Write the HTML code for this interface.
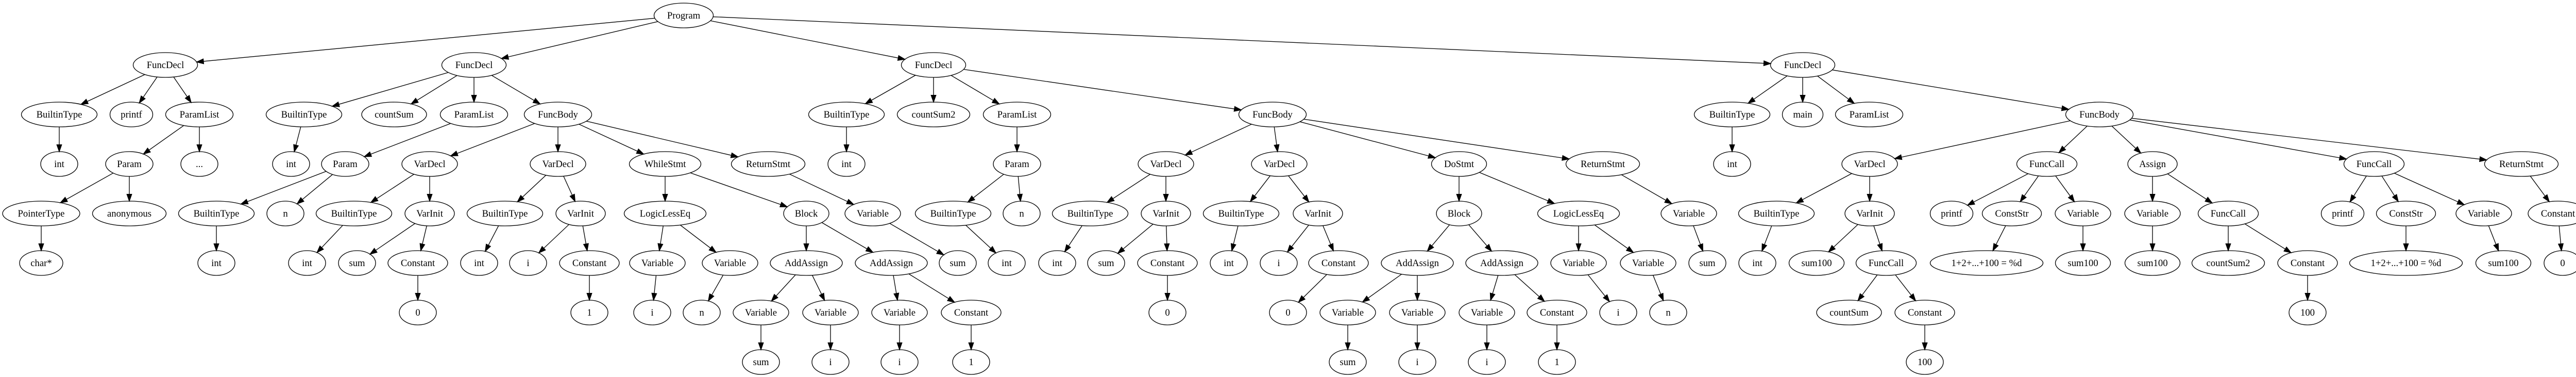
<!DOCTYPE html>
<html><head><meta charset="utf-8"><style>
html,body{margin:0;padding:0;background:#fff;}
svg{display:block;}
ellipse{fill:none;stroke:#000;stroke-width:1.33;}
text{font-family:"Liberation Serif",serif;font-size:18.67px;text-anchor:middle;fill:#000;}
</style></head><body>
<svg id="s" width="5030" height="731" viewBox="0 0 5030 731" xmlns="http://www.w3.org/2000/svg">
<rect width="5030" height="731" fill="#fff"/>
<g id="edges"></g>
<g id="nodes">
<g id="P"><ellipse cx="1327" cy="30" rx="57.5" ry="24"/><text x="1327" y="36">Program</text></g>
<g id="F1"><ellipse cx="321" cy="126" rx="62.5" ry="24"/><text x="321" y="132">FuncDecl</text></g>
<g id="F2"><ellipse cx="920" cy="126" rx="62.5" ry="24"/><text x="920" y="132">FuncDecl</text></g>
<g id="F3"><ellipse cx="1812" cy="126" rx="62.5" ry="24"/><text x="1812" y="132">FuncDecl</text></g>
<g id="F4"><ellipse cx="3499" cy="126" rx="62.5" ry="24"/><text x="3499" y="132">FuncDecl</text></g>

<g id="a1"><ellipse cx="115" cy="222" rx="73.5" ry="24"/><text x="115" y="228">BuiltinType</text></g>
<g id="a2"><ellipse cx="255" cy="222" rx="41.5" ry="24"/><text x="255" y="228">printf</text></g>
<g id="a3"><ellipse cx="387" cy="222" rx="65.5" ry="24"/><text x="387" y="228">ParamList</text></g>
<g id="b1"><ellipse cx="590" cy="222" rx="73.5" ry="24"/><text x="590" y="228">BuiltinType</text></g>
<g id="b2"><ellipse cx="765" cy="222" rx="63" ry="24"/><text x="765" y="228">countSum</text></g>
<g id="b3"><ellipse cx="920" cy="222" rx="65.5" ry="24"/><text x="920" y="228">ParamList</text></g>
<g id="b4"><ellipse cx="1083" cy="222" rx="65.5" ry="24"/><text x="1083" y="228">FuncBody</text></g>
<g id="c1"><ellipse cx="1643" cy="222" rx="73.5" ry="24"/><text x="1643" y="228">BuiltinType</text></g>
<g id="c2"><ellipse cx="1812" cy="222" rx="70.5" ry="24"/><text x="1812" y="228">countSum2</text></g>
<g id="c3"><ellipse cx="1974" cy="222" rx="65.5" ry="24"/><text x="1974" y="228">ParamList</text></g>
<g id="c4"><ellipse cx="2470" cy="222" rx="65.5" ry="24"/><text x="2470" y="228">FuncBody</text></g>
<g id="d1"><ellipse cx="3362" cy="222" rx="73.5" ry="24"/><text x="3362" y="228">BuiltinType</text></g>
<g id="d2"><ellipse cx="3499" cy="222" rx="39.5" ry="24"/><text x="3499" y="228">main</text></g>
<g id="d3"><ellipse cx="3628" cy="222" rx="65.5" ry="24"/><text x="3628" y="228">ParamList</text></g>
<g id="d4"><ellipse cx="4075" cy="222" rx="65.5" ry="24"/><text x="4075" y="228">FuncBody</text></g>

<g id="a1i"><ellipse cx="115" cy="318" rx="36" ry="24"/><text x="115" y="324">int</text></g>
<g id="a3p"><ellipse cx="251" cy="318" rx="46" ry="24"/><text x="251" y="324">Param</text></g>
<g id="a3e"><ellipse cx="387" cy="318" rx="36" ry="24"/><text x="387" y="324">...</text></g>
<g id="b1i"><ellipse cx="565" cy="318" rx="36" ry="24"/><text x="565" y="324">int</text></g>
<g id="b3p"><ellipse cx="670" cy="318" rx="46" ry="24"/><text x="670" y="324">Param</text></g>
<g id="b41"><ellipse cx="834" cy="318" rx="54" ry="24"/><text x="834" y="324">VarDecl</text></g>
<g id="b42"><ellipse cx="1083" cy="318" rx="54" ry="24"/><text x="1083" y="324">VarDecl</text></g>
<g id="b4w"><ellipse cx="1291" cy="318" rx="69.5" ry="24"/><text x="1291" y="324">WhileStmt</text></g>
<g id="b4r"><ellipse cx="1491" cy="318" rx="71.5" ry="24"/><text x="1491" y="324">ReturnStmt</text></g>
<g id="c1i"><ellipse cx="1643" cy="318" rx="36" ry="24"/><text x="1643" y="324">int</text></g>
<g id="c3p"><ellipse cx="1974" cy="318" rx="46" ry="24"/><text x="1974" y="324">Param</text></g>
<g id="c41"><ellipse cx="2263" cy="318" rx="54" ry="24"/><text x="2263" y="324">VarDecl</text></g>
<g id="c42"><ellipse cx="2483" cy="318" rx="54" ry="24"/><text x="2483" y="324">VarDecl</text></g>
<g id="c4d"><ellipse cx="2832" cy="318" rx="53.5" ry="24"/><text x="2832" y="324">DoStmt</text></g>
<g id="c4r"><ellipse cx="3111" cy="318" rx="71.5" ry="24"/><text x="3111" y="324">ReturnStmt</text></g>
<g id="d1i"><ellipse cx="3362" cy="318" rx="36" ry="24"/><text x="3362" y="324">int</text></g>
<g id="d4v"><ellipse cx="3629" cy="318" rx="54" ry="24"/><text x="3629" y="324">VarDecl</text></g>
<g id="d4f1"><ellipse cx="3973" cy="318" rx="58.5" ry="24"/><text x="3973" y="324">FuncCall</text></g>
<g id="d4a"><ellipse cx="4178" cy="318" rx="48" ry="24"/><text x="4178" y="324">Assign</text></g>
<g id="d4f2"><ellipse cx="4608" cy="318" rx="58.5" ry="24"/><text x="4608" y="324">FuncCall</text></g>
<g id="d4r"><ellipse cx="4894" cy="318" rx="71.5" ry="24"/><text x="4894" y="324">ReturnStmt</text></g>

<g id="e1"><ellipse cx="80" cy="414" rx="75" ry="24"/><text x="80" y="420">PointerType</text></g>
<g id="e2"><ellipse cx="251" cy="414" rx="71.5" ry="24"/><text x="251" y="420">anonymous</text></g>
<g id="e3"><ellipse cx="420" cy="414" rx="73.5" ry="24"/><text x="420" y="420">BuiltinType</text></g>
<g id="e4"><ellipse cx="554" cy="414" rx="36" ry="24"/><text x="554" y="420">n</text></g>
<g id="e5"><ellipse cx="687" cy="414" rx="73.5" ry="24"/><text x="687" y="420">BuiltinType</text></g>
<g id="e6"><ellipse cx="834" cy="414" rx="48" ry="24"/><text x="834" y="420">VarInit</text></g>
<g id="e7"><ellipse cx="980" cy="414" rx="73.5" ry="24"/><text x="980" y="420">BuiltinType</text></g>
<g id="e8"><ellipse cx="1127" cy="414" rx="48" ry="24"/><text x="1127" y="420">VarInit</text></g>
<g id="e9"><ellipse cx="1291" cy="414" rx="79.5" ry="24"/><text x="1291" y="420">LogicLessEq</text></g>
<g id="e10"><ellipse cx="1565" cy="414" rx="44" ry="24"/><text x="1565" y="420">Block</text></g>
<g id="e11"><ellipse cx="1694" cy="414" rx="54" ry="24"/><text x="1694" y="420">Variable</text></g>
<g id="e12"><ellipse cx="1850" cy="414" rx="73.5" ry="24"/><text x="1850" y="420">BuiltinType</text></g>
<g id="e13"><ellipse cx="1983" cy="414" rx="36" ry="24"/><text x="1983" y="420">n</text></g>
<g id="e14"><ellipse cx="2116" cy="414" rx="73.5" ry="24"/><text x="2116" y="420">BuiltinType</text></g>
<g id="e15"><ellipse cx="2263" cy="414" rx="48" ry="24"/><text x="2263" y="420">VarInit</text></g>
<g id="e16"><ellipse cx="2409" cy="414" rx="73.5" ry="24"/><text x="2409" y="420">BuiltinType</text></g>
<g id="e17"><ellipse cx="2558" cy="414" rx="48" ry="24"/><text x="2558" y="420">VarInit</text></g>
<g id="e18"><ellipse cx="2832" cy="414" rx="44" ry="24"/><text x="2832" y="420">Block</text></g>
<g id="e19"><ellipse cx="3064" cy="414" rx="79.5" ry="24"/><text x="3064" y="420">LogicLessEq</text></g>
<g id="e20"><ellipse cx="3278" cy="414" rx="54" ry="24"/><text x="3278" y="420">Variable</text></g>
<g id="e21"><ellipse cx="3448" cy="414" rx="73.5" ry="24"/><text x="3448" y="420">BuiltinType</text></g>
<g id="e22"><ellipse cx="3629" cy="414" rx="48" ry="24"/><text x="3629" y="420">VarInit</text></g>
<g id="e23"><ellipse cx="3788" cy="414" rx="41.5" ry="24"/><text x="3788" y="420">printf</text></g>
<g id="e24"><ellipse cx="3905" cy="414" rx="57.5" ry="24"/><text x="3905" y="420">ConstStr</text></g>
<g id="e25"><ellipse cx="4043" cy="414" rx="54" ry="24"/><text x="4043" y="420">Variable</text></g>
<g id="e26"><ellipse cx="4178" cy="414" rx="54" ry="24"/><text x="4178" y="420">Variable</text></g>
<g id="e27"><ellipse cx="4325" cy="414" rx="58.5" ry="24"/><text x="4325" y="420">FuncCall</text></g>
<g id="e28"><ellipse cx="4547" cy="414" rx="41.5" ry="24"/><text x="4547" y="420">printf</text></g>
<g id="e29"><ellipse cx="4670" cy="414" rx="57.5" ry="24"/><text x="4670" y="420">ConstStr</text></g>
<g id="e30"><ellipse cx="4821" cy="414" rx="54" ry="24"/><text x="4821" y="420">Variable</text></g>
<g id="e31"><ellipse cx="4965" cy="414" rx="58" ry="24"/><text x="4965" y="420">Constant</text></g>

<g id="f1"><ellipse cx="80" cy="510" rx="42" ry="24"/><text x="80" y="516">char*</text></g>
<g id="f2"><ellipse cx="420" cy="510" rx="36" ry="24"/><text x="420" y="516">int</text></g>
<g id="f3"><ellipse cx="596" cy="510" rx="36" ry="24"/><text x="596" y="516">int</text></g>
<g id="f4"><ellipse cx="693" cy="510" rx="36" ry="24"/><text x="693" y="516">sum</text></g>
<g id="f5"><ellipse cx="811" cy="510" rx="58" ry="24"/><text x="811" y="516">Constant</text></g>
<g id="f6"><ellipse cx="930" cy="510" rx="36" ry="24"/><text x="930" y="516">int</text></g>
<g id="f7"><ellipse cx="1025" cy="510" rx="36" ry="24"/><text x="1025" y="516">i</text></g>
<g id="f8"><ellipse cx="1144" cy="510" rx="58" ry="24"/><text x="1144" y="516">Constant</text></g>
<g id="f9"><ellipse cx="1276" cy="510" rx="54" ry="24"/><text x="1276" y="516">Variable</text></g>
<g id="f10"><ellipse cx="1417" cy="510" rx="54" ry="24"/><text x="1417" y="516">Variable</text></g>
<g id="f11"><ellipse cx="1565" cy="510" rx="70" ry="24"/><text x="1565" y="516">AddAssign</text></g>
<g id="f12"><ellipse cx="1730" cy="510" rx="70" ry="24"/><text x="1730" y="516">AddAssign</text></g>
<g id="f13"><ellipse cx="1859" cy="510" rx="36" ry="24"/><text x="1859" y="516">sum</text></g>
<g id="f14"><ellipse cx="1954" cy="510" rx="36" ry="24"/><text x="1954" y="516">int</text></g>
<g id="f15"><ellipse cx="2052" cy="510" rx="36" ry="24"/><text x="2052" y="516">int</text></g>
<g id="f16"><ellipse cx="2147" cy="510" rx="36" ry="24"/><text x="2147" y="516">sum</text></g>
<g id="f17"><ellipse cx="2266" cy="510" rx="58" ry="24"/><text x="2266" y="516">Constant</text></g>
<g id="f18"><ellipse cx="2385" cy="510" rx="36" ry="24"/><text x="2385" y="516">int</text></g>
<g id="f19"><ellipse cx="2482" cy="510" rx="36" ry="24"/><text x="2482" y="516">i</text></g>
<g id="f20"><ellipse cx="2598" cy="510" rx="58" ry="24"/><text x="2598" y="516">Constant</text></g>
<g id="f21"><ellipse cx="2751" cy="510" rx="70" ry="24"/><text x="2751" y="516">AddAssign</text></g>
<g id="f22"><ellipse cx="2915" cy="510" rx="70" ry="24"/><text x="2915" y="516">AddAssign</text></g>
<g id="f23"><ellipse cx="3064" cy="510" rx="54" ry="24"/><text x="3064" y="516">Variable</text></g>
<g id="f24"><ellipse cx="3199" cy="510" rx="54" ry="24"/><text x="3199" y="516">Variable</text></g>
<g id="f25"><ellipse cx="3314" cy="510" rx="36" ry="24"/><text x="3314" y="516">sum</text></g>
<g id="f26"><ellipse cx="3411" cy="510" rx="36" ry="24"/><text x="3411" y="516">int</text></g>
<g id="f27"><ellipse cx="3526" cy="510" rx="53.5" ry="24"/><text x="3526" y="516">sum100</text></g>
<g id="f28"><ellipse cx="3661" cy="510" rx="58.5" ry="24"/><text x="3661" y="516">FuncCall</text></g>
<g id="f29"><ellipse cx="3856" cy="510" rx="109.5" ry="24"/><text x="3856" y="516">1+2+...+100 = %d</text></g>
<g id="f30"><ellipse cx="4043" cy="510" rx="53.5" ry="24"/><text x="4043" y="516">sum100</text></g>
<g id="f31"><ellipse cx="4178" cy="510" rx="53.5" ry="24"/><text x="4178" y="516">sum100</text></g>
<g id="f32"><ellipse cx="4325" cy="510" rx="70.5" ry="24"/><text x="4325" y="516">countSum2</text></g>
<g id="f33"><ellipse cx="4479" cy="510" rx="58" ry="24"/><text x="4479" y="516">Constant</text></g>
<g id="f34"><ellipse cx="4670" cy="510" rx="109.5" ry="24"/><text x="4670" y="516">1+2+...+100 = %d</text></g>
<g id="f35"><ellipse cx="4859" cy="510" rx="53.5" ry="24"/><text x="4859" y="516">sum100</text></g>
<g id="f36"><ellipse cx="4974" cy="510" rx="36" ry="24"/><text x="4974" y="516">0</text></g>

<g id="g1"><ellipse cx="811" cy="606" rx="36" ry="24"/><text x="811" y="612">0</text></g>
<g id="g2"><ellipse cx="1144" cy="606" rx="36" ry="24"/><text x="1144" y="612">1</text></g>
<g id="g3"><ellipse cx="1266" cy="606" rx="36" ry="24"/><text x="1266" y="612">i</text></g>
<g id="g4"><ellipse cx="1362" cy="606" rx="36" ry="24"/><text x="1362" y="612">n</text></g>
<g id="g5"><ellipse cx="1477" cy="606" rx="54" ry="24"/><text x="1477" y="612">Variable</text></g>
<g id="g6"><ellipse cx="1612" cy="606" rx="54" ry="24"/><text x="1612" y="612">Variable</text></g>
<g id="g7"><ellipse cx="1746" cy="606" rx="54" ry="24"/><text x="1746" y="612">Variable</text></g>
<g id="g8"><ellipse cx="1885" cy="606" rx="58" ry="24"/><text x="1885" y="612">Constant</text></g>
<g id="g9"><ellipse cx="2266" cy="606" rx="36" ry="24"/><text x="2266" y="612">0</text></g>
<g id="g10"><ellipse cx="2500" cy="606" rx="36" ry="24"/><text x="2500" y="612">0</text></g>
<g id="g11"><ellipse cx="2616" cy="606" rx="54" ry="24"/><text x="2616" y="612">Variable</text></g>
<g id="g12"><ellipse cx="2751" cy="606" rx="54" ry="24"/><text x="2751" y="612">Variable</text></g>
<g id="g13"><ellipse cx="2886" cy="606" rx="54" ry="24"/><text x="2886" y="612">Variable</text></g>
<g id="g14"><ellipse cx="3022" cy="606" rx="58" ry="24"/><text x="3022" y="612">Constant</text></g>
<g id="g15"><ellipse cx="3141" cy="606" rx="36" ry="24"/><text x="3141" y="612">i</text></g>
<g id="g16"><ellipse cx="3238" cy="606" rx="36" ry="24"/><text x="3238" y="612">n</text></g>
<g id="g17"><ellipse cx="3589" cy="606" rx="63" ry="24"/><text x="3589" y="612">countSum</text></g>
<g id="g18"><ellipse cx="3736" cy="606" rx="58" ry="24"/><text x="3736" y="612">Constant</text></g>
<g id="g19"><ellipse cx="4479" cy="606" rx="36" ry="24"/><text x="4479" y="612">100</text></g>

<g id="h1"><ellipse cx="1477" cy="702" rx="36" ry="24"/><text x="1477" y="708">sum</text></g>
<g id="h2"><ellipse cx="1612" cy="702" rx="36" ry="24"/><text x="1612" y="708">i</text></g>
<g id="h3"><ellipse cx="1746" cy="702" rx="36" ry="24"/><text x="1746" y="708">i</text></g>
<g id="h4"><ellipse cx="1885" cy="702" rx="36" ry="24"/><text x="1885" y="708">1</text></g>
<g id="h5"><ellipse cx="2616" cy="702" rx="36" ry="24"/><text x="2616" y="708">sum</text></g>
<g id="h6"><ellipse cx="2751" cy="702" rx="36" ry="24"/><text x="2751" y="708">i</text></g>
<g id="h7"><ellipse cx="2886" cy="702" rx="36" ry="24"/><text x="2886" y="708">i</text></g>
<g id="h8"><ellipse cx="3022" cy="702" rx="36" ry="24"/><text x="3022" y="708">1</text></g>
<g id="h9"><ellipse cx="3736" cy="702" rx="36" ry="24"/><text x="3736" y="708">100</text></g>
</g>
</svg>
<script>
(function(){
var E="P F1,P F2,P F3,P F4,F1 a1,F1 a2,F1 a3,F2 b1,F2 b2,F2 b3,F2 b4,F3 c1,F3 c2,F3 c3,F3 c4,F4 d1,F4 d2,F4 d3,F4 d4,"+
"a1 a1i,a3 a3p,a3 a3e,b1 b1i,b3 b3p,b4 b41,b4 b42,b4 b4w,b4 b4r,c1 c1i,c3 c3p,c4 c41,c4 c42,c4 c4d,c4 c4r,d1 d1i,d4 d4v,d4 d4f1,d4 d4a,d4 d4f2,d4 d4r,"+
"a3p e1,a3p e2,b3p e3,b3p e4,b41 e5,b41 e6,b42 e7,b42 e8,b4w e9,b4w e10,b4r e11,c3p e12,c3p e13,c41 e14,c41 e15,c42 e16,c42 e17,c4d e18,c4d e19,c4r e20,d4v e21,d4v e22,d4f1 e23,d4f1 e24,d4f1 e25,d4a e26,d4a e27,d4f2 e28,d4f2 e29,d4f2 e30,d4r e31,"+
"e1 f1,e3 f2,e5 f3,e6 f4,e6 f5,e7 f6,e8 f7,e8 f8,e9 f9,e9 f10,e10 f11,e10 f12,e11 f13,e12 f14,e14 f15,e15 f16,e15 f17,e16 f18,e17 f19,e17 f20,e18 f21,e18 f22,e19 f23,e19 f24,e20 f25,e21 f26,e22 f27,e22 f28,e24 f29,e25 f30,e26 f31,e27 f32,e27 f33,e29 f34,e30 f35,e31 f36,"+
"f5 g1,f8 g2,f9 g3,f10 g4,f11 g5,f11 g6,f12 g7,f12 g8,f17 g9,f20 g10,f21 g11,f21 g12,f22 g13,f22 g14,f23 g15,f24 g16,f28 g17,f28 g18,f33 g19,"+
"g5 h1,g6 h2,g7 h3,g8 h4,g11 h5,g12 h6,g13 h7,g14 h8,g18 h9";
var eg=document.getElementById("edges");
function geo(id){var e=document.querySelector("#"+id+" ellipse");return{x:+e.getAttribute("cx"),y:+e.getAttribute("cy"),rx:+e.getAttribute("rx"),ry:+e.getAttribute("ry")};}
function bnd(n,dx,dy){var t=1/Math.sqrt(dx*dx/(n.rx*n.rx)+dy*dy/(n.ry*n.ry));return[n.x+dx*t,n.y+dy*t];}
var out="";
E.split(",").forEach(function(p){
 var q=p.split(" "),a=geo(q[0]),b=geo(q[1]);
 var dx=b.x-a.x,dy=b.y-a.y;
 var s=bnd(a,dx,dy),t=bnd(b,-dx,-dy);
 var L=Math.hypot(t[0]-s[0],t[1]-s[1]),ux=(t[0]-s[0])/L,uy=(t[1]-s[1])/L;
 var AL=13.3,AW=4.7;
 var bx=t[0]-ux*AL,by=t[1]-uy*AL;
 out+='<line x1="'+s[0]+'" y1="'+s[1]+'" x2="'+bx+'" y2="'+by+'" stroke="#000" stroke-width="1.33"/>';
 out+='<polygon points="'+t[0]+','+t[1]+' '+(bx-uy*AW)+','+(by+ux*AW)+' '+(bx+uy*AW)+','+(by-ux*AW)+'" fill="#000" stroke="#000" stroke-width="1.33"/>';
});
eg.innerHTML=out;
})();
</script>
</body></html>
